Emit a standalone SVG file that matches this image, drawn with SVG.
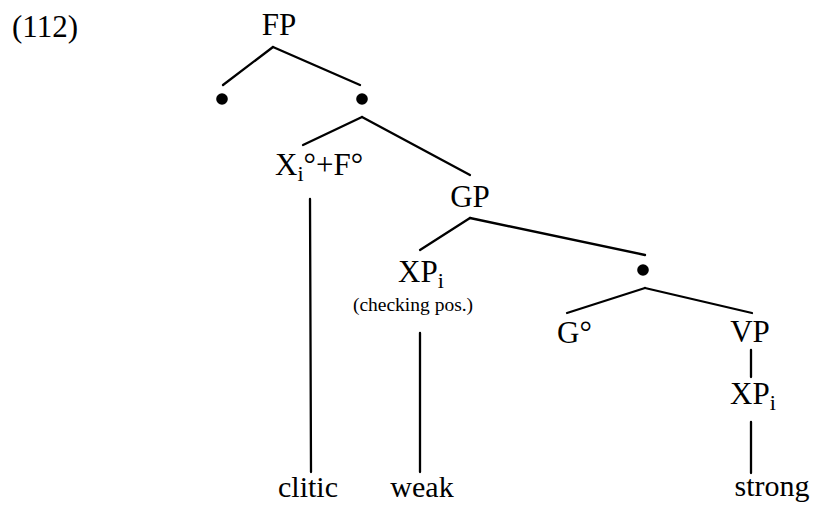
<svg xmlns="http://www.w3.org/2000/svg" width="814" height="506" viewBox="0 0 814 506">
<style>
text{font-family:"Liberation Serif","Times New Roman",serif;font-size:31px;fill:#000}
.m{text-anchor:middle}
.s{font-size:19.5px}
.sub{font-size:22px}
.b{font-size:30px}
line{stroke:#000;stroke-width:2.3;stroke-linecap:round}
circle{fill:#000}
</style>
<rect width="814" height="506" fill="#fff"/>
<g id="connectors">
<line x1="273" y1="47" x2="223" y2="85"/>
<line x1="273" y1="47" x2="360" y2="85"/>
<line x1="362" y1="117" x2="303" y2="145"/>
<line x1="362" y1="117" x2="470" y2="175"/>
<line x1="310" y1="199" x2="311" y2="472"/>
<line x1="470" y1="218" x2="420" y2="250"/>
<line x1="470" y1="218" x2="645" y2="255"/>
<line x1="420" y1="333" x2="420" y2="472"/>
<line x1="645" y1="288" x2="567" y2="313"/>
<line x1="645" y1="288" x2="752" y2="313"/>
<line x1="751" y1="350" x2="751" y2="377"/>
<line x1="751" y1="422" x2="751" y2="473"/>
</g>
<g id="label"><text x="12" y="37">(112)</text></g>
<g id="FP"><text class="m" x="279" y="35">FP</text></g>
<g id="dotL"><circle cx="222" cy="99" r="5.8"/></g>
<g id="dotR"><circle cx="362" cy="99" r="5.8"/></g>
<g id="XF"><text x="275" y="175">X<tspan class="sub" dy="6">i</tspan><tspan dy="-6">°+F°</tspan></text></g>
<g id="GP"><text class="m" x="470" y="207">GP</text></g>
<g id="XPi1"><text x="398" y="282">XP<tspan class="sub" dy="6">i</tspan></text>
<text class="m s" x="413" y="311">(checking pos.)</text></g>
<g id="dotG"><circle cx="643" cy="270" r="5.8"/></g>
<g id="G0"><text x="557" y="343">G°</text></g>
<g id="VP"><text class="m" x="750" y="342">VP</text></g>
<g id="XPi2"><text x="730" y="404">XP<tspan class="sub" dy="6">i</tspan></text></g>
<g id="clitic"><text class="m b" x="308" y="497">clitic</text></g>
<g id="weak"><text class="m b" x="422" y="497">weak</text></g>
<g id="strong"><text class="m b" x="772" y="496">strong</text></g>
</svg>
